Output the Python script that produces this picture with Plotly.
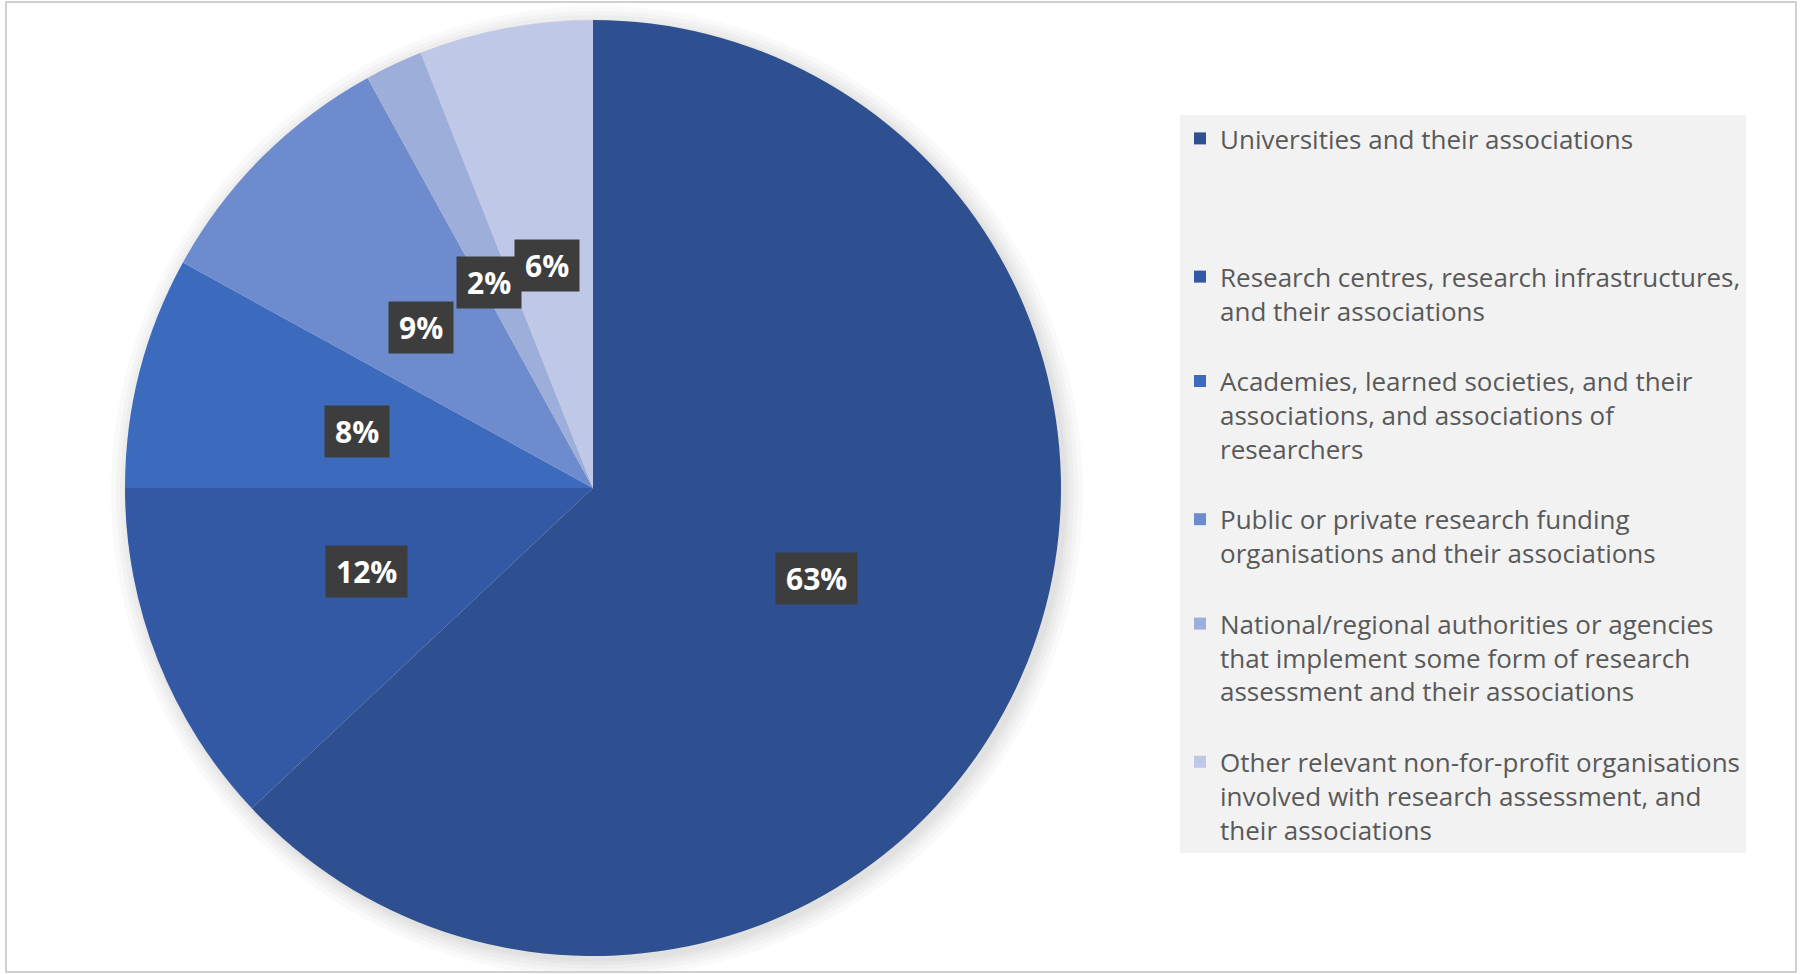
import math
import plotly.graph_objects as go

categories = [
    "Universities and their associations",
    "Research centres, research infrastructures,<br>and their associations",
    "Academies, learned societies, and their<br>associations, and associations of<br>researchers",
    "Public or private research funding<br>organisations and their associations",
    "National/regional authorities or agencies<br>that implement some form of research<br>assessment and their associations",
    "Other relevant non-for-profit organisations<br>involved with research assessment, and<br>their associations",
]
values = [63, 12, 8, 9, 2, 6]
colors = ["#2E5090", "#3358A4", "#3C6BBE", "#6E8BCD", "#9EAEDA", "#BFC9E7"]

W, H = 1801, 974
CX, CY = 593, 486          # pie centre in px (from left, from bottom)
R = 468                    # pie radius in px

# legend entries padded with blank lines so the items are spaced evenly
legend_rows = [4, 3, 4, 3, 4, 3]
def pad(label, n):
    k = label.count("<br>") + 1
    return label + "<br>\u00a0" * max(0, n - k)

legend_labels = [pad(c, n) for c, n in zip(categories, legend_rows)]

fig = go.Figure()
fig.add_trace(go.Pie(
    labels=legend_labels,
    values=values,
    sort=False,
    direction="clockwise",
    rotation=0,
    marker=dict(colors=colors, line=dict(width=0)),
    textinfo="none",
    hoverinfo="label+percent",
    domain=dict(x=[(CX - R) / W, (CX + R) / W], y=[(CY - R) / H, (CY + R) / H]),
))

# data labels in dark boxes about half-way out along each slice's mid-angle
total = sum(values)
cum = 0
for v in values:
    theta = 2 * math.pi * (cum + v / 2) / total
    cum += v
    x = (CX + 0.52 * R * math.sin(theta)) / W
    y = (CY + 0.485 * R * math.cos(theta)) / H
    fig.add_annotation(
        x=x, y=y, xref="paper", yref="paper",
        text="\u2009<b>%d%%</b>\u2009" % round(100 * v / total),
        showarrow=False,
        font=dict(family="Open Sans", size=30, color="white"),
        bgcolor="#3D3D3D",
        borderpad=5,
        xanchor="center", yanchor="middle",
    )

# soft shadow behind the pie
shapes = []
for extra in [18, 13, 9, 5, 2]:
    r = R + extra
    shapes.append(dict(
        type="circle", xref="paper", yref="paper", layer="below",
        x0=(CX + 4 - r) / W, x1=(CX + 4 + r) / W,
        y0=(CY - 4 - r) / H, y1=(CY - 4 + r) / H,
        fillcolor="rgba(0,0,0,0.022)", line=dict(width=0),
    ))
shapes.append(dict(type="rect", xref="paper", yref="paper",
                   x0=6 / W, y0=2 / H, x1=1796 / W, y1=1 - 2 / H,
                   line=dict(color="#D0D0D0", width=2), fillcolor="rgba(0,0,0,0)"))

fig.update_layout(
    width=W, height=H,
    margin=dict(l=0, r=0, t=0, b=0),
    paper_bgcolor="white",
    plot_bgcolor="white",
    showlegend=True,
    legend=dict(
        x=1180 / W, xanchor="left",
        y=1 - 115 / H, yanchor="top",
        bgcolor="#F2F2F2",
        font=dict(family="Open Sans", size=26, color="#595959"),
        valign="top",
        traceorder="normal",
    ),
    shapes=shapes,
)

fig.write_html("out.html",
               config={"displayModeBar": False},
               post_script="document.body.style.margin='0';document.body.style.overflow='hidden';")
